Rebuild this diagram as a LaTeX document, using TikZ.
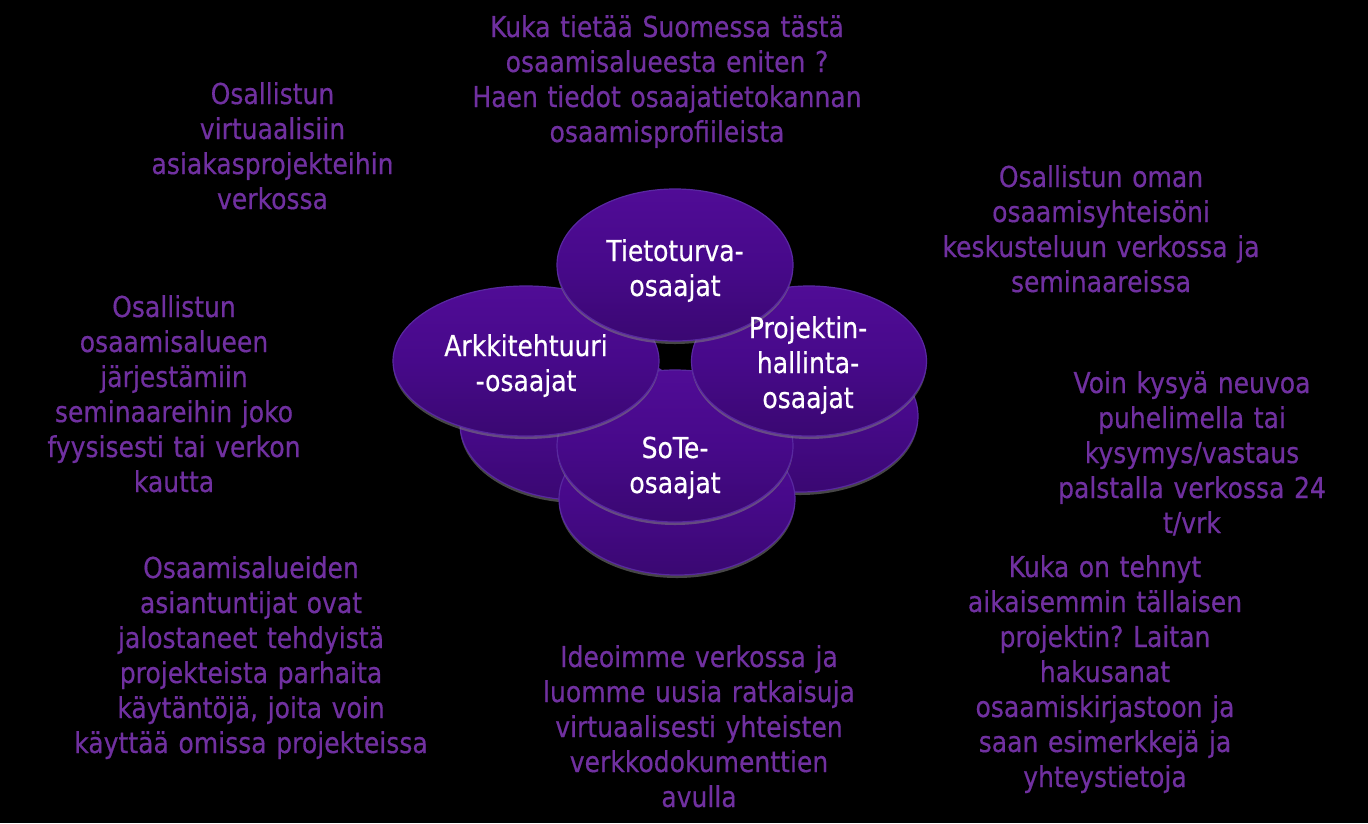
\documentclass[tikz,border=0pt]{standalone}
\usepackage{fontspec}
\setmainfont{DejaVu Sans}[FakeStretch=0.87,FakeBold=0.5]
\usetikzlibrary{shapes.geometric,shadows}
\definecolor{txtpurple}{HTML}{7030A0}
\definecolor{etop}{HTML}{500C96}
\definecolor{emid}{HTML}{47098A}
\definecolor{ebot}{HTML}{3A0872}
\definecolor{erim}{HTML}{5828A0}
\frenchspacing
\begin{document}
\begin{tikzpicture}[x=1pt,y=-1pt,
  ellip/.style={ellipse, minimum width=236pt, minimum height=152pt, inner sep=0pt,
    top color=etop, bottom color=ebot, middle color=emid,
    draw=erim, line width=1.2pt,
    drop shadow={shadow xshift=0pt,shadow yshift=-3pt,opacity=0.55}},
  lbl/.style={text=white, font=\fontsize{28.8}{35}\selectfont, align=center,
    text width=300pt, anchor=base, inner sep=0pt},
  blk/.style={text=txtpurple, font=\fontsize{28.8}{35}\selectfont, align=center,
    text width=500pt, anchor=base, inner sep=0pt}]
\fill[black] (0,0) rectangle (1368,823);
\useasboundingbox (0,0) rectangle (1368,823);

% back layer
\node[ellip] (backleft) at (578,424) {};
\node[ellip] (backright) at (800,416) {};
\node[ellip] (backbottom) at (677,499) {};
% front layer
\node[ellip] (sote) at (675,446) {};
\node[ellip, minimum width=266pt, minimum height=150pt] (arkki) at (526,361) {};
\node[ellip, minimum width=235pt, minimum height=150pt] (proj) at (809,361) {};
\node[ellip] (tieto) at (675,265) {};

% ellipse labels
\node[lbl] (tietotxt) at (675,261) {Tietoturva-\\osaajat};
\node[lbl] (arkkitxt) at (526,356) {Arkkitehtuuri\\-osaajat};
\node[lbl] (projtxt) at (808,338) {Projektin-\\hallinta-\\osaajat};
\node[lbl] (sotetxt) at (675,458) {SoTe-\\osaajat};

% surrounding texts
\node[blk] (ta) at (667,37) {Kuka tietää Suomessa tästä\\osaamisalueesta eniten ?\\Haen tiedot osaajatietokannan\\osaamisprofiileista};
\node[blk] (tb) at (272.5,104) {Osallistun\\virtuaalisiin\\asiakasprojekteihin\\verkossa};
\node[blk] (tc) at (1101,187) {Osallistun oman\\osaamisyhteisöni\\keskusteluun verkossa ja\\seminaareissa};
\node[blk] (td) at (174,317) {Osallistun\\osaamisalueen\\järjestämiin\\seminaareihin joko\\fyysisesti tai verkon\\kautta};
\node[blk] (te) at (1192,393) {Voin kysyä neuvoa\\puhelimella tai\\kysymys/vastaus\\palstalla verkossa 24\\t/vrk};
\node[blk] (tf) at (251,578) {Osaamisalueiden\\asiantuntijat ovat\\jalostaneet tehdyistä\\projekteista parhaita\\käytäntöjä, joita voin\\käyttää omissa projekteissa};
\node[blk] (tg) at (699,667) {Ideoimme verkossa ja\\luomme uusia ratkaisuja\\virtuaalisesti yhteisten\\verkkodokumenttien\\avulla};
\node[blk] (th) at (1105,577) {Kuka on tehnyt\\aikaisemmin tällaisen\\projektin? Laitan\\hakusanat\\osaamiskirjastoon ja\\saan esimerkkejä ja\\yhteystietoja};
\end{tikzpicture}
\end{document}
